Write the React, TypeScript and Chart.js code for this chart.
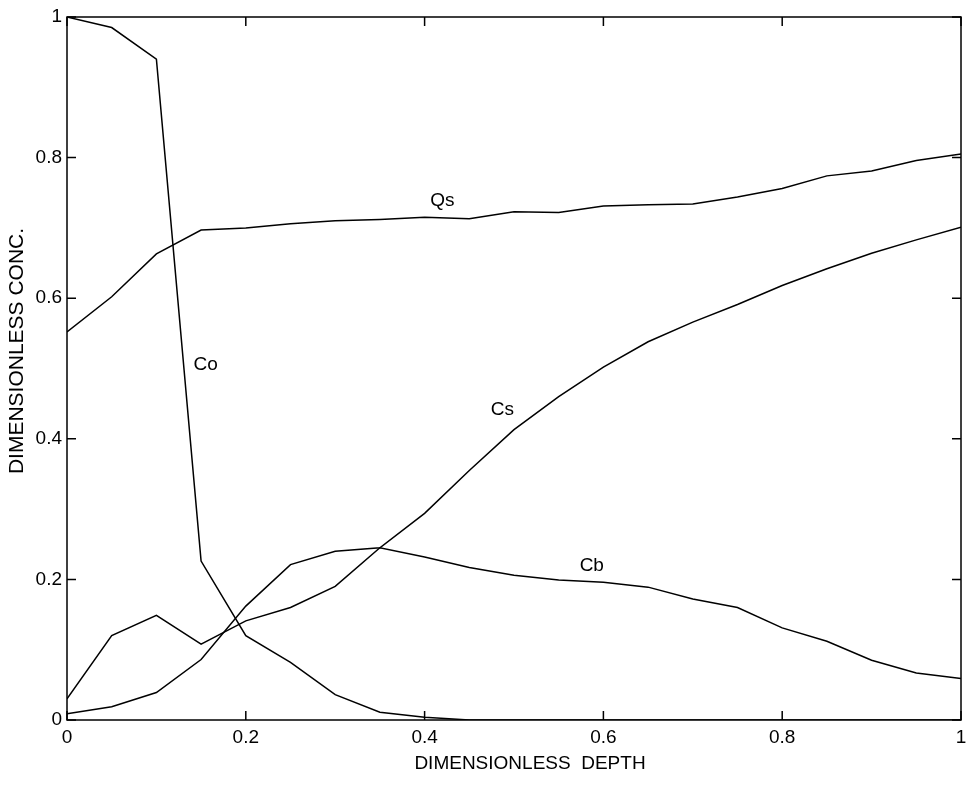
import React, { useEffect, useRef } from "react";
import { Chart, registerables } from "chart.js";

Chart.register(...registerables);

const FONT = "'Liberation Sans', Arial, Helvetica, sans-serif";

// Dimensionless depth (x)
const depth = [0, 0.05, 0.1, 0.15, 0.2, 0.25, 0.3, 0.35, 0.4, 0.45, 0.5, 0.55, 0.6, 0.65, 0.7, 0.75, 0.8, 0.85, 0.9, 0.95, 1.0];

// Series values (dimensionless concentration)
const co = [1.0, 0.985, 0.94, 0.226, 0.12, 0.082, 0.036, 0.011, 0.004, 0.0, 0.0, 0.0, 0.0, 0.0, 0.0, 0.0, 0.0, 0.0, 0.0, 0.0, 0.0];
const qs = [0.552, 0.602, 0.663, 0.697, 0.7, 0.706, 0.71, 0.712, 0.715, 0.713, 0.723, 0.722, 0.731, 0.733, 0.734, 0.744, 0.756, 0.774, 0.781, 0.796, 0.805];
const cs = [0.009, 0.019, 0.039, 0.086, 0.162, 0.221, 0.24, 0.245, 0.294, 0.355, 0.413, 0.46, 0.502, 0.538, 0.566, 0.591, 0.618, 0.642, 0.664, 0.683, 0.701];
const cb = [0.03, 0.12, 0.149, 0.108, 0.141, 0.16, 0.19, 0.245, 0.232, 0.217, 0.206, 0.199, 0.196, 0.189, 0.172, 0.16, 0.131, 0.112, 0.085, 0.067, 0.059];

// In-plot curve labels (data coordinates)
const labelNames = ["Qs", "Co", "Cs", "Cb"];
const labelX = [0.42, 0.155, 0.487, 0.587];
const labelY = [0.739, 0.505, 0.442, 0.219];

// Axis ticks
const tickValues = [0, 0.2, 0.4, 0.6, 0.8, 1];
const tickLabels = ["0", "0.2", "0.4", "0.6", "0.8", "1"];

const xTitle = "DIMENSIONLESS  DEPTH";
const yTitle = "DIMENSIONLESS CONC.";

const toPoints = (vals: number[]) => depth.map((x, i) => ({ x, y: vals[i] }));

const fmtTick = (v: number | string) => {
  const n = Number(v);
  const idx = tickValues.findIndex((t) => Math.abs(t - n) < 1e-6);
  return idx >= 0 ? tickLabels[idx] : "";
};

const boxPlugin = {
  id: "matlabBox",
  afterDatasetsDraw(chart: any) {
    const { ctx, chartArea, scales } = chart;
    const { left, right, top, bottom } = chartArea;
    const x = scales.x;
    const y = scales.y;
    ctx.save();
    ctx.strokeStyle = "#000";
    ctx.lineWidth = 1.5;
    ctx.strokeRect(left, top, right - left, bottom - top);
    const tl = 9;
    ctx.beginPath();
    tickValues.forEach((t) => {
      const px = x.getPixelForValue(t);
      ctx.moveTo(px, bottom);
      ctx.lineTo(px, bottom - tl);
      ctx.moveTo(px, top);
      ctx.lineTo(px, top + tl);
      const py = y.getPixelForValue(t);
      ctx.moveTo(left, py);
      ctx.lineTo(left + tl, py);
      ctx.moveTo(right, py);
      ctx.lineTo(right - tl, py);
    });
    ctx.stroke();
    ctx.fillStyle = "#000";
    ctx.font = `19px ${FONT}`;
    ctx.textAlign = "center";
    ctx.textBaseline = "middle";
    labelNames.forEach((n, i) => {
      ctx.fillText(n, x.getPixelForValue(labelX[i]), y.getPixelForValue(labelY[i]));
    });
    // axis titles
    const midX = (left + right) / 2;
    const midY = (top + bottom) / 2;
    ctx.font = `19px ${FONT}`;
    ctx.fillText(xTitle, midX + 16, bottom + 44);
    ctx.translate(17.5, midY - 17.5);
    ctx.rotate(-Math.PI / 2);
    ctx.font = `21px ${FONT}`;
    ctx.fillText(yTitle, 0, 0);
    ctx.restore();
  },
};

export default function App() {
  const ref = useRef<HTMLCanvasElement>(null);

  useEffect(() => {
    document.body.style.margin = "0";
    const canvas = ref.current;
    if (!canvas) return;
    const lineStyle = {
      borderColor: "#000",
      borderWidth: 1.5,
      pointRadius: 0,
      fill: false,
      tension: 0,
    };
    const chart = new Chart(canvas, {
      type: "line",
      data: {
        datasets: [
          { label: "Co", data: toPoints(co), ...lineStyle },
          { label: "Qs", data: toPoints(qs), ...lineStyle },
          { label: "Cs", data: toPoints(cs), ...lineStyle },
          { label: "Cb", data: toPoints(cb), ...lineStyle },
        ],
      },
      options: {
        animation: false,
        responsive: false,
        devicePixelRatio: 1,
        layout: { padding: { left: 0, top: 17, right: 7, bottom: 0 } },
        plugins: {
          legend: { display: false },
          tooltip: { enabled: false },
        },
        scales: {
          x: {
            type: "linear",
            min: 0,
            max: 1,
            grid: { display: false, drawTicks: false },
            border: { display: false },
            ticks: {
              stepSize: 0.2,
              color: "#000",
              padding: 6,
              font: { family: FONT, size: 19 },
              callback: (v: any) => fmtTick(v),
            },
            title: { display: false, text: xTitle },
            afterFit: (s: any) => {
              s.height = 67;
              s.paddingLeft = 0;
              s.paddingRight = 0;
            },
          },
          y: {
            type: "linear",
            min: 0,
            max: 1,
            grid: { display: false, drawTicks: false },
            border: { display: false },
            ticks: {
              stepSize: 0.2,
              color: "#000",
              padding: 5,
              font: { family: FONT, size: 19 },
              callback: (v: any) => fmtTick(v),
            },
            title: { display: false, text: yTitle },
            afterFit: (s: any) => {
              s.width = 67;
              s.paddingTop = 0;
              s.paddingBottom = 0;
            },
          },
        },
      },
      plugins: [boxPlugin],
    } as any);
    return () => chart.destroy();
  }, []);

  return (
    <div style={{ position: "fixed", left: 0, top: 0, width: 968, height: 787, background: "#fff" }}>
      <canvas ref={ref} width={968} height={787} style={{ display: "block" }} />
    </div>
  );
}
